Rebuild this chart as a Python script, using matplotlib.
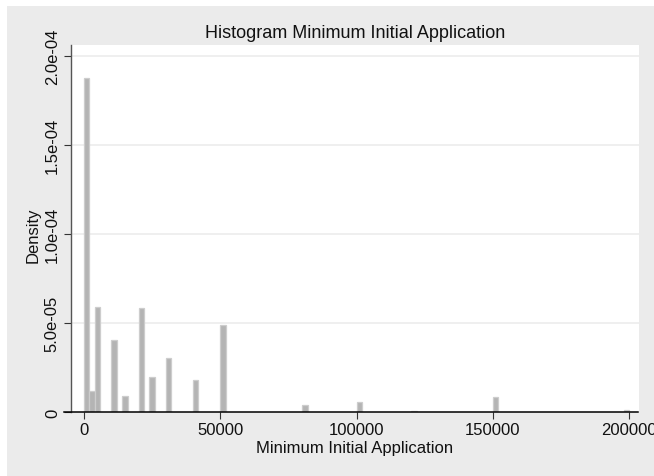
import matplotlib
matplotlib.use("Agg")
import matplotlib.pyplot as plt
from matplotlib.lines import Line2D

plt.rcParams['font.family'] = ['Liberation Sans', 'DejaVu Sans']

# Histogram bins (left edges, width 2000) and densities
bin_width = 2000
bin_left = [0, 2000, 4000, 10000, 14000, 20000, 24000, 30000, 40000, 50000,
            80000, 100000, 120000, 150000, 198000]
density = [1.875e-4, 1.20e-5, 5.90e-5, 4.06e-5, 9.2e-6, 5.86e-5, 1.98e-5,
           3.02e-5, 1.81e-5, 4.90e-5, 4.1e-6, 5.4e-6, 6e-7, 8.4e-6, 1.3e-6]

x_ticks = [0, 50000, 100000, 150000, 200000]
x_ticklabels = ["0", "50000", "100000", "150000", "200000"]
y_ticks = [0, 5e-5, 1e-4, 1.5e-4, 2e-4]
y_ticklabels = ["0", "5.0e-05", "1.0e-04", "1.5e-04", "2.0e-04"]

title = "Histogram Minimum Initial Application"
xlabel = "Minimum Initial Application"
ylabel = "Density"

W, H = 654, 477
fig = plt.figure(figsize=(W / 100, H / 100), dpi=100)
fig.patch.set_facecolor('white')

# gray graph region behind the plot
bg = fig.add_axes([7 / W, 0, (W - 7) / W, (H - 7) / H], zorder=-10)
bg.set_facecolor('#ebebeb')
bg.set_xticks([])
bg.set_yticks([])
for s in bg.spines.values():
    s.set_visible(False)

L, R, T, B = 71, 639, 46, 413
ax = fig.add_axes([L / W, (H - B) / H, (R - L) / W, (B - T) / H], zorder=1)
ax.set_facecolor('white')

ax.bar(bin_left, density, width=bin_width, align='edge',
       color='#b4b4b4', edgecolor='#cdcdcd', linewidth=0.9, zorder=3)

ax.set_xlim(-4770, 203600)
ax.set_ylim(0, 2.062e-4)

for yv in y_ticks[1:]:
    ax.axhline(yv, color='#ebebeb', linewidth=1.1, zorder=1)

ax.set_xticks(x_ticks)
ax.set_xticklabels(x_ticklabels)
ax.set_yticks(y_ticks)
ax.set_yticklabels(y_ticklabels, rotation=90, va='center')

ax.tick_params(axis='both', direction='out', length=5, width=0.8,
               color='#333333', labelsize=12, labelcolor='#111111')
ax.tick_params(axis='x', pad=2)
ax.tick_params(axis='y', pad=3)

for s in ['top', 'right', 'bottom']:
    ax.spines[s].set_visible(False)
ax.spines['left'].set_color('#555555')
ax.spines['left'].set_linewidth(1.0)

# x-axis line extends slightly to the left of y axis
fig.add_artist(Line2D([64 / W, 638 / W], [(H - B) / H, (H - B) / H],
                      transform=fig.transFigure, color='black', linewidth=1.1,
                      zorder=5))

fig.text(355 / W, 1 - 33 / H, title, ha='center', va='center', fontsize=13,
         color='#111111')
fig.text(355 / W, 1 - 448 / H, xlabel, ha='center', va='center', fontsize=12,
         color='#111111')
fig.text(33 / W, 1 - 235 / H, ylabel, ha='center', va='center', fontsize=12,
         rotation=90, color='#111111')

fig.savefig("out.png", dpi=100)
